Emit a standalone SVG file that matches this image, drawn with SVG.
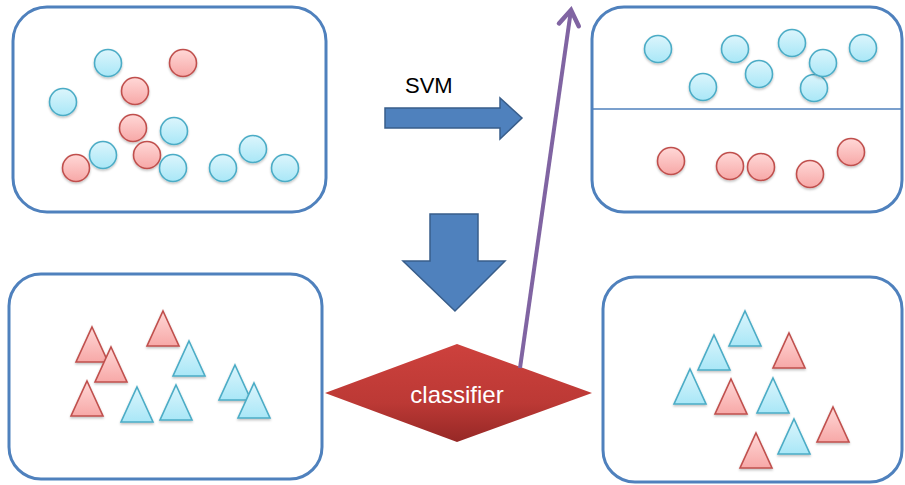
<svg xmlns="http://www.w3.org/2000/svg" xmlns:xlink="http://www.w3.org/1999/xlink" width="905" height="485" viewBox="0 0 905 485">
  <style>
    .panel { fill: #ffffff; stroke: #4f81bd; stroke-width: 3; }
    .sep { stroke: #4f81bd; stroke-width: 1.5; }
    .blue { fill: url(#gBlue); stroke: #4bacc6; stroke-width: 1.6; filter: url(#shadow); }
    .red { fill: url(#gRed); stroke: #c0504d; stroke-width: 1.6; filter: url(#shadow); }
    .block { fill: #4f81bd; stroke: #385d8a; stroke-width: 1.5; }
    .label { font-family: "Liberation Sans", Arial, sans-serif; }
  </style>
  <defs>
    <linearGradient id="gBlue" x1="0" y1="0" x2="0" y2="1">
      <stop offset="0" stop-color="#dcf5fc"/>
      <stop offset="1" stop-color="#a9e7f7"/>
    </linearGradient>
    <linearGradient id="gRed" x1="0" y1="0" x2="0" y2="1">
      <stop offset="0" stop-color="#ffd8d7"/>
      <stop offset="1" stop-color="#f7a8a7"/>
    </linearGradient>
    <linearGradient id="gDiamond" x1="0" y1="0" x2="0" y2="1">
      <stop offset="0" stop-color="#cd413d"/>
      <stop offset="0.6" stop-color="#bc3935"/>
      <stop offset="1" stop-color="#962826"/>
    </linearGradient>
    <filter id="shadow" x="-30%" y="-30%" width="160%" height="170%">
      <feDropShadow dx="0" dy="1.5" stdDeviation="1.2" flood-color="#000" flood-opacity="0.25"/>
    </filter>
    <circle id="dot" r="13.5"/>
    <path id="tri" d="M0,0 L16,35 L-16,35 Z" stroke-linejoin="miter"/>
    <marker id="openHead" markerUnits="userSpaceOnUse" viewBox="-20 -14 24 28" refX="0" refY="0" markerWidth="24" markerHeight="28" orient="auto">
      <path d="M-15,-10 L0,0 L-15,10" fill="none" stroke="#8064a2" stroke-width="4.5" stroke-linecap="round" stroke-linejoin="miter"/>
    </marker>
  </defs>

  <!-- training data: mixed circles -->
  <g id="train-set">
    <rect class="panel" x="13" y="7" width="313" height="205" rx="34"/>
    <use href="#dot" class="blue" x="108" y="63"/>
    <use href="#dot" class="red" x="183" y="63"/>
    <use href="#dot" class="red" x="135" y="91"/>
    <use href="#dot" class="blue" x="63" y="102"/>
    <use href="#dot" class="red" x="133" y="128"/>
    <use href="#dot" class="blue" x="174" y="131"/>
    <use href="#dot" class="blue" x="103" y="155"/>
    <use href="#dot" class="red" x="147" y="155"/>
    <use href="#dot" class="red" x="76" y="168"/>
    <use href="#dot" class="blue" x="173" y="168"/>
    <use href="#dot" class="blue" x="223" y="168"/>
    <use href="#dot" class="blue" x="253" y="149"/>
    <use href="#dot" class="blue" x="285" y="168"/>
  </g>

  <!-- separated classes -->
  <g id="separated-set">
    <rect class="panel" x="592" y="7" width="310" height="205" rx="32"/>
    <line class="sep" x1="592" y1="109" x2="902" y2="109"/>
    <use href="#dot" class="blue" x="658" y="49"/>
    <use href="#dot" class="blue" x="735" y="49"/>
    <use href="#dot" class="blue" x="792" y="43"/>
    <use href="#dot" class="blue" x="863" y="48"/>
    <use href="#dot" class="blue" x="814" y="88"/>
    <use href="#dot" class="blue" x="823" y="63"/>
    <use href="#dot" class="blue" x="759" y="74"/>
    <use href="#dot" class="blue" x="703" y="87"/>
    <use href="#dot" class="red" x="671" y="161"/>
    <use href="#dot" class="red" x="730" y="166"/>
    <use href="#dot" class="red" x="761" y="167"/>
    <use href="#dot" class="red" x="810" y="174"/>
    <use href="#dot" class="red" x="851" y="152"/>
  </g>

  <!-- new data: triangles to classify -->
  <g id="test-set">
    <rect class="panel" x="9" y="274" width="313" height="205" rx="32"/>
    <use href="#tri" class="red" x="92" y="327"/>
    <use href="#tri" class="red" x="111" y="347"/>
    <use href="#tri" class="red" x="87" y="381"/>
    <use href="#tri" class="red" x="163" y="311"/>
    <use href="#tri" class="blue" x="189" y="341"/>
    <use href="#tri" class="blue" x="137" y="387"/>
    <use href="#tri" class="blue" x="176" y="385"/>
    <use href="#tri" class="blue" x="235" y="365"/>
    <use href="#tri" class="blue" x="254" y="383"/>
  </g>

  <!-- classified triangles -->
  <g id="result-set">
    <rect class="panel" x="603" y="277" width="299" height="205" rx="32"/>
    <use href="#tri" class="blue" x="745" y="311"/>
    <use href="#tri" class="blue" x="714" y="335"/>
    <use href="#tri" class="red" x="789" y="333"/>
    <use href="#tri" class="blue" x="690" y="369"/>
    <use href="#tri" class="red" x="731" y="379"/>
    <use href="#tri" class="blue" x="773" y="378"/>
    <use href="#tri" class="red" x="833" y="407"/>
    <use href="#tri" class="blue" x="794" y="419"/>
    <use href="#tri" class="red" x="756" y="433"/>
  </g>

  <!-- classifier diamond -->
  <g id="classifier">
    <polygon points="325,393 457,344 592,393 457,442" fill="url(#gDiamond)"/>
    <text class="label" x="457" y="403" font-size="24" fill="#ffffff" text-anchor="middle">classifier</text>
  </g>

  <!-- connectors -->
  <g id="connectors">
    <g id="svm-arrow">
      <polygon class="block" points="385,108 500,108 500,98 522,118 500,139 500,128 385,128"/>
      <text class="label" x="405" y="93" font-size="22" fill="#000000">SVM</text>
    </g>
    <polygon id="down-arrow" class="block" points="430,214 478,214 478,261 505,261 455,311 403,261 430,261"/>
    <line id="learned-model" x1="520" y1="368" x2="571" y2="10" stroke="#8064a2" stroke-width="4" marker-end="url(#openHead)"/>
  </g>
</svg>
